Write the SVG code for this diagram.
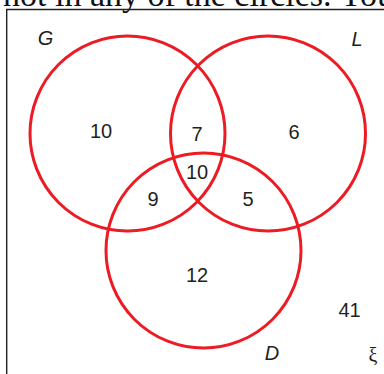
<svg xmlns="http://www.w3.org/2000/svg" width="384" height="374" viewBox="0 0 384 374">
<style>
.c{fill:none;stroke:#ec1c24;stroke-width:3}
.n{font-family:"Liberation Sans",Arial,sans-serif;font-size:20px;fill:#231f20;text-anchor:middle}
.l{font-family:"Liberation Sans",Arial,sans-serif;font-size:20px;font-style:italic;fill:#231f20;text-anchor:middle}
</style>
<rect width="384" height="374" fill="#fff"/>
<text x="3" y="6" font-family="Liberation Serif,serif" font-size="34" fill="#111">not in any of the circles. You</text>
<path d="M6.7 374V9.5H384" fill="none" stroke="#222" stroke-width="1.4"/>
<g id="G"><circle class="c" cx="127.5" cy="133.5" r="97.5"/><text class="l" x="45.5" y="45">G</text></g>
<g id="L"><circle class="c" cx="268" cy="133.5" r="97.5"/><text class="l" x="357" y="46">L</text></g>
<g id="D"><circle class="c" cx="203.5" cy="250.5" r="97.5"/><text class="l" x="272" y="360">D</text></g>
<g id="regions">
<text class="n" x="101" y="138">10</text>
<text class="n" x="197" y="141">7</text>
<text class="n" x="294" y="139">6</text>
<text class="n" x="197" y="179">10</text>
<text class="n" x="153" y="206">9</text>
<text class="n" x="248" y="206">5</text>
<text class="n" x="197" y="282">12</text>
<text class="n" x="349.5" y="317">41</text>
</g>
<text x="373" y="362" font-family="Liberation Serif,serif" font-size="20" fill="#231f20" text-anchor="middle">ξ</text>
</svg>
